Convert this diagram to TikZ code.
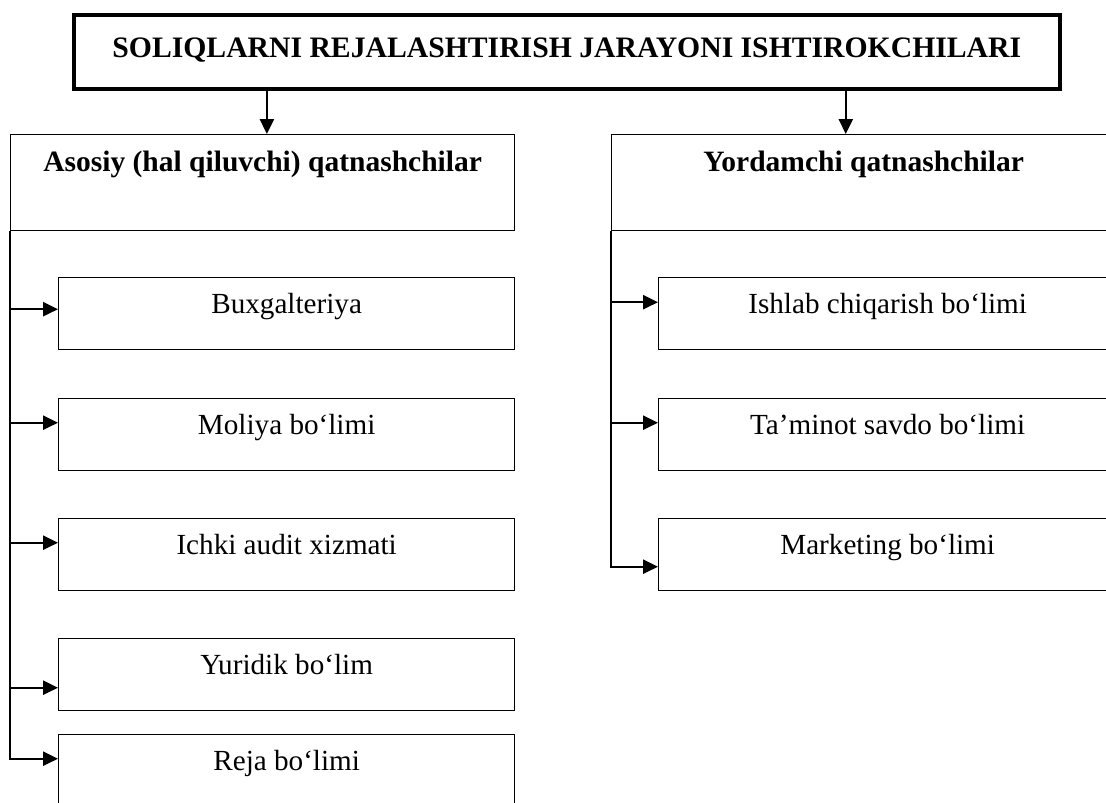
\documentclass[tikz,border=0pt]{standalone}
\usepackage{fontspec}
\setmainfont{Liberation Serif}
\usetikzlibrary{arrows.meta,positioning,calc}

\begin{document}
\begin{tikzpicture}[
    x=0.02cm, y=-0.02cm,
    titlebox/.style={draw,line width=2.2pt,anchor=north west,inner sep=0pt,
                     minimum width=19.72cm,minimum height=1.48cm,
                     text height=0.64cm,text depth=0.4cm,
                     font=\fontsize{16.9}{20}\selectfont\bfseries},
    headbox/.style={draw,line width=0.8pt,anchor=north west,inner sep=0pt,
                    minimum width=10.08cm,minimum height=1.92cm,
                    text height=0.36cm,text depth=0.8cm,
                    font=\fontsize{16.8}{20}\selectfont\bfseries},
    deptbox/.style={draw,line width=0.8pt,anchor=north west,inner sep=0pt,
                    minimum height=1.44cm,text height=0.5cm,text depth=0.5cm,
                    font=\fontsize{16.6}{20}\selectfont},
    arr/.style={-{Triangle[length=8.5pt,width=8pt]},line width=1.2pt}
  ]
    \useasboundingbox (0,0) rectangle (1106,802);
    \clip (0,0) rectangle (1106,802);

    \node[titlebox] (title) at (72,13) {SOLIQLARNI REJALASHTIRISH JARAYONI ISHTIROKCHILARI};

    \node[headbox] (lhead) at (10,134)  {Asosiy (hal qiluvchi) qatnashchilar};
    \node[headbox] (rhead) at (611,134) {Yordamchi qatnashchilar};

    % asosiy bo'limlar
    \node[deptbox,minimum width=9.12cm] (bux)   at (58,277) {Buxgalteriya};
    \node[deptbox,minimum width=9.12cm] (mol)   at (58,398) {Moliya bo‘limi};
    \node[deptbox,minimum width=9.12cm] (audit) at (58,518) {Ichki audit xizmati};
    \node[deptbox,minimum width=9.12cm] (yur)   at (58,638) {Yuridik bo‘lim};
    \node[deptbox,minimum width=9.12cm] (reja)  at (58,734) {Reja bo‘limi};

    % yordamchi bo'limlar
    \node[deptbox,minimum width=9.16cm] (ishlab)  at (658,277) {Ishlab chiqarish bo‘limi};
    \node[deptbox,minimum width=9.16cm] (taminot) at (658,398) {Ta’minot savdo bo‘limi};
    \node[deptbox,minimum width=9.16cm] (market)  at (658,518) {Marketing bo‘limi};

    \coordinate (ldown) at ([xshift=-6cm]title.south);
    \coordinate (rdown) at ([xshift=5.58cm]title.south);
    \draw[arr] (ldown) -- (ldown |- lhead.north);
    \draw[arr] (rdown) -- (rdown |- rhead.north);

    \coordinate (bux-in)     at ($(bux.west)+(0,-4.5)$);
    \coordinate (mol-in)     at ($(mol.west)+(0,-12)$);
    \coordinate (audit-in)   at ($(audit.west)+(0,-12)$);
    \coordinate (yur-in)     at ($(yur.west)+(0,13)$);
    \coordinate (reja-in)    at ($(reja.west)+(0,-12)$);
    \coordinate (ishlab-in)  at ($(ishlab.west)+(0,-11.5)$);
    \coordinate (taminot-in) at ($(taminot.west)+(0,-12)$);
    \coordinate (market-in)  at ($(market.west)+(0,12)$);

    \draw[arr] (lhead.south west) |- (reja-in);
    \draw[arr] (lhead.south west |- bux-in)   -- (bux-in);
    \draw[arr] (lhead.south west |- mol-in)   -- (mol-in);
    \draw[arr] (lhead.south west |- audit-in) -- (audit-in);
    \draw[arr] (lhead.south west |- yur-in)   -- (yur-in);

    \draw[arr] (rhead.south west) |- (market-in);
    \draw[arr] (rhead.south west |- ishlab-in)  -- (ishlab-in);
    \draw[arr] (rhead.south west |- taminot-in) -- (taminot-in);
\end{tikzpicture}
\end{document}
